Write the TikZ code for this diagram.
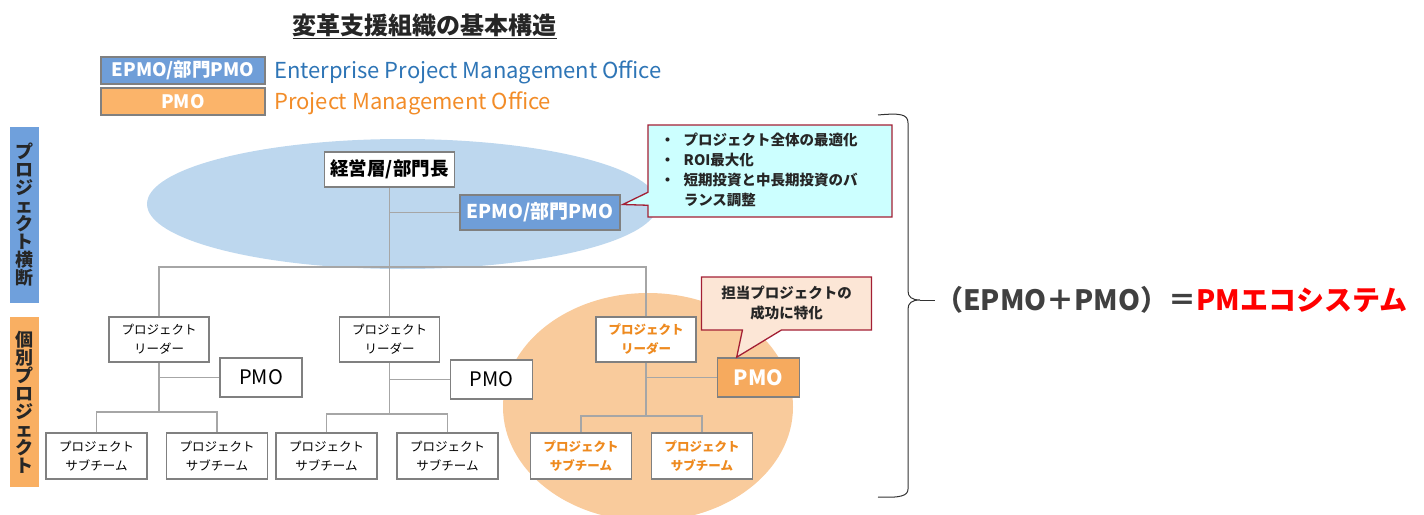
\documentclass[tikz,border=0pt]{standalone}
\usepackage{fontspec}
\setmainfont{Noto Sans CJK JP}
\usetikzlibrary{shapes.callouts,calc}
\definecolor{ellblue}{HTML}{BDD7EE}
\definecolor{ellorange}{HTML}{F9CB9C}
\definecolor{boxblue}{HTML}{6F9ED8}
\definecolor{boxorange}{HTML}{F6AA5E}
\definecolor{legorange}{HTML}{FBB46A}
\definecolor{barblue}{HTML}{6FA0DC}
\definecolor{barorange}{HTML}{F9AF62}
\definecolor{textblue}{HTML}{2E75B6}
\definecolor{textorange}{HTML}{F28C28}
\definecolor{nodeorange}{HTML}{EE8A1F}
\definecolor{bordergray}{HTML}{808080}
\definecolor{linegray}{HTML}{A6A6A6}
\definecolor{calred}{HTML}{A31F34}
\definecolor{calcyan}{HTML}{CCFFFF}
\definecolor{calpeach}{HTML}{FCE6D6}
\definecolor{darktext}{HTML}{262626}
\definecolor{ecogray}{HTML}{404040}
\definecolor{ecored}{HTML}{FF0000}
\begin{document}
\begin{tikzpicture}[x=1pt,y=-1pt,
  org/.style={draw=bordergray, line width=1.6pt, fill=white, inner sep=0pt, align=center,
    font=\fontsize{12.5}{19}\selectfont},
  leader/.style={org, minimum width=100pt, minimum height=45pt},
  sub/.style={org, minimum width=101pt, minimum height=46pt},
  pmobox/.style={org, minimum width=82pt, minimum height=39pt, font=\fontsize{20}{22}\selectfont},
  orgtext/.style={text=nodeorange, font=\bfseries\fontsize{12.5}{19}\selectfont},
  legbox/.style={draw=bordergray, line width=1.4pt, inner sep=0pt, minimum width=164pt, minimum height=27pt,
    text=white, font=\bfseries\fontsize{18.5}{20}\selectfont},
  legtext/.style={anchor=west, inner sep=0pt, font=\fontsize{22}{24}\selectfont},
  bar/.style={inner sep=0pt, minimum width=29pt, align=center, text=darktext,
    font=\bfseries\fontsize{18}{18}\selectfont},
  link/.style={draw=linegray, line width=1.3pt},
  calloutbox/.style={rectangle callout, draw=calred, line width=1.3pt, inner sep=0pt, align=center,
    font=\bfseries\fontsize{14.5}{20}\selectfont, text=darktext}
]
\useasboundingbox (0,0) rectangle (1424,514);

% background ellipses
\fill[ellblue] (402.5,204) ellipse [x radius=255.5pt, y radius=65pt];
\fill[ellorange] (648,407) ellipse [x radius=145pt, y radius=114pt];

% title and legend
\node[font=\bfseries\fontsize{24}{26}\selectfont, text=darktext] (title) at (424.5,26) {\underline{変革支援組織の基本構造}};
\node[legbox, fill=boxblue] (lg1) at (183,70.5) {EPMO/部門PMO};
\node[legtext, text=textblue] (lt1) at (274,72.5) {Enterprise Project Management Office};
\node[legbox, fill=legorange] (lg2) at (183,101.5) {PMO};
\node[legtext, text=textorange] (lt2) at (274,103) {Project Management Office};

% side bars
\node[bar, fill=barblue, minimum height=176pt] (bar1) at (24,215) {プ\\ロ\\ジ\\ェ\\ク\\ト\\横\\断};
\node[bar, fill=barorange, minimum height=170pt] (bar2) at (24,402) {個\\別\\プ\\ロ\\ジ\\ェ\\ク\\ト};

% top level
\node[org, minimum width=130pt, minimum height=35pt, font=\bfseries\fontsize{18.5}{20}\selectfont] (head) at (389.5,169.5) {経営層/部門長};
\node[org, fill=boxblue, text=white, minimum width=160pt, minimum height=35pt, font=\bfseries\fontsize{19}{21}\selectfont] (epmo) at (540,212.5) {EPMO/部門PMO};

% project 1
\node[leader] (l1) at (159,339.5) {プロジェクト\\リーダー};
\node[pmobox] (p1) at (261,377.5) {PMO};
\node[sub] (s1) at (96.5,456) {プロジェクト\\サブチーム};
\node[sub] (s2) at (217,456) {プロジェクト\\サブチーム};

% project 2
\node[leader] (l2) at (389.5,339.5) {プロジェクト\\リーダー};
\node[pmobox] (p2) at (491.5,379.5) {PMO};
\node[sub] (s3) at (326.5,456) {プロジェクト\\サブチーム};
\node[sub] (s4) at (447.5,456) {プロジェクト\\サブチーム};

% project 3
\node[leader, orgtext] (l3) at (646,339.5) {プロジェクト\\リーダー};
\node[pmobox, fill=boxorange, text=white, font=\bfseries\fontsize{21}{22}\selectfont] (p3) at (758.5,377.5) {PMO};
\node[sub, orgtext] (s5) at (581,456) {プロジェクト\\サブチーム};
\node[sub, orgtext] (s6) at (702,456) {プロジェクト\\サブチーム};

% connectors
\coordinate (bus) at (389.5,267);
\draw[link] (head.south) -- (bus) -- (l2.north);
\draw[link] (head.south |- epmo.west) -- (epmo.west);
\draw[link] (l1.north) |- (bus) -| (l3.north);

\coordinate (b1) at (159,412);
\draw[link] (l1.south) -- (b1);
\draw[link] (l1.south |- p1.west) -- (p1.west);
\draw[link] (s1.north) |- (b1) -| (s2.north);

\coordinate (b2) at (389.5,414);
\draw[link] (l2.south) -- (b2);
\draw[link] (l2.south |- p2.west) -- (p2.west);
\draw[link] (s3.north) |- (b2) -| (s4.north);

\coordinate (b3) at (646,416);
\draw[link] (l3.south) -- (b3);
\draw[link] (l3.south |- p3.west) -- (p3.west);
\draw[link] (s5.north) |- (b3) -| (s6.north);

% callouts
\node[calloutbox, fill=calcyan, minimum width=244pt, minimum height=92pt,
  callout absolute pointer={($(epmo.east)+(2,-8)$)}, callout pointer width=13pt] (c1) at (770,171)
  {\begin{tabular}{@{}l@{\hspace{9pt}}l@{\hspace{22pt}}}
   ・ & プロジェクト全体の最適化\\
   ・ & ROI最大化\\
   ・ & 短期投資と中長期投資のバ\\
      & ランス調整
   \end{tabular}};
\node[calloutbox, fill=calpeach, minimum width=170pt, minimum height=53pt,
  callout absolute pointer={($(p3.north west)+(20,0)$)}, callout pointer width=39pt] (c2) at (786.5,303.5)
  {担当プロジェクトの\\成功に特化};

% brace and result
\coordinate (tip) at (920,300);
\draw[line width=1pt, black!80] (878,115) .. controls (900,113) and (908,114) .. (908,123) -- (908,291)
  .. controls (908,297) and (912,300) .. (tip) .. controls (912,300) and (908,303) .. (908,309)
  -- (908,489) .. controls (908,496) and (900,498) .. (878,497);
\node[anchor=west, inner sep=0pt, font=\bfseries\fontsize{28}{30}\selectfont, text=ecogray] (eco) at (935,300)
  {（EPMO＋PMO）＝\textcolor{ecored}{PMエコシステム}};
\draw[line width=1pt, black!80] (tip) -- (eco.west);
\end{tikzpicture}
\end{document}
